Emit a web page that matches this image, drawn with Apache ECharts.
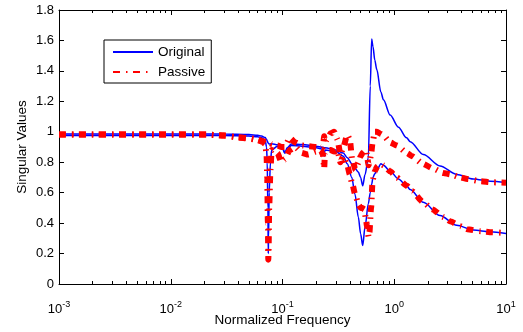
<!DOCTYPE html>
<html><head><meta charset="utf-8">
<script src="https://cdn.jsdelivr.net/npm/echarts@6/dist/echarts.min.js"></script>
<style>html,body{margin:0;padding:0;background:#fff}#c{width:523px;height:332px}</style>
</head><body><div id="c"></div>
<script>
// ---- data ----
const origFreq = [0.001, 0.01, 0.03, 0.05, 0.06, 0.065, 0.07, 0.072, 0.073, 0.074, 0.0746, 0.075, 0.076, 0.078, 0.08, 0.09, 0.1, 0.105, 0.11, 0.12, 0.15, 0.2, 0.23, 0.236, 0.24, 0.3, 0.35, 0.38, 0.417, 0.445, 0.477, 0.5, 0.522, 0.548, 0.586, 0.61, 0.628, 0.645, 0.67, 0.697, 0.76, 0.8, 0.92, 1.09, 1.29, 1.39, 1.82, 2.57, 3.62, 5.1, 7.2, 10];
const origUpper = [0.986, 0.986, 0.985, 0.982, 0.977, 0.972, 0.962, 0.95, 0.94, 0.93, 0.925, 0.922, 0.92, 0.92, 0.922, 0.915, 0.895, 0.86, 0.895, 0.92, 0.917, 0.905, 0.898, 0.895, 0.895, 0.88, 0.86, 0.83, 0.79, 0.76, 0.735, 0.7, 0.645, 0.72, 0.83, 1.3, 1.61, 1.56, 1.47, 1.41, 1.26, 1.21, 1.11, 1.03, 0.96, 0.935, 0.85, 0.775, 0.72, 0.69, 0.675, 0.667];
const origLower = [0.976, 0.976, 0.975, 0.972, 0.967, 0.96, 0.945, 0.9, 0.8, 0.5, 0.2, 0.3, 0.6, 0.8, 0.88, 0.905, 0.89, 0.86, 0.885, 0.91, 0.905, 0.895, 0.885, 0.84, 0.88, 0.87, 0.84, 0.79, 0.70, 0.59, 0.44, 0.33, 0.253, 0.376, 0.527, 0.6, 0.656, 0.7, 0.725, 0.745, 0.79, 0.78, 0.74, 0.69, 0.645, 0.62, 0.537, 0.45, 0.386, 0.354, 0.343, 0.332];

const passFreq = [0.001, 0.01, 0.021, 0.03, 0.04, 0.05, 0.06, 0.066, 0.07, 0.072, 0.073, 0.074, 0.0746, 0.075, 0.076, 0.078, 0.08, 0.09, 0.098, 0.105, 0.116, 0.13, 0.15, 0.17, 0.2, 0.22, 0.23, 0.236, 0.24, 0.25, 0.27, 0.29, 0.31, 0.33, 0.35, 0.38, 0.4, 0.42, 0.45, 0.48, 0.5, 0.52, 0.54, 0.56, 0.57, 0.59, 0.6, 0.62, 0.64, 0.67, 0.7, 0.76, 0.8, 0.92, 1.05, 1.3, 1.44, 1.8, 2.2, 2.75, 3.2, 3.9, 4.5, 5.9, 7.5, 10];
const passUpper = [0.982, 0.982, 0.982, 0.975, 0.965, 0.958, 0.95, 0.94, 0.935, 0.93, 0.93, 0.93, 0.93, 0.93, 0.93, 0.925, 0.92, 0.91, 0.9, 0.9, 0.96, 0.93, 0.91, 0.905, 0.9, 0.89, 0.9, 0.97, 0.93, 0.95, 0.99, 1.0, 0.95, 0.85, 0.9, 0.98, 0.95, 0.82, 0.75, 0.8, 0.84, 0.86, 0.87, 0.88, 0.84, 0.78, 0.8, 0.85, 0.93, 1.0, 1.0, 0.985, 0.975, 0.93, 0.91, 0.86, 0.84, 0.79, 0.76, 0.73, 0.72, 0.70, 0.69, 0.675, 0.668, 0.665];
const passLower = [0.982, 0.982, 0.982, 0.975, 0.963, 0.955, 0.945, 0.935, 0.92, 0.85, 0.7, 0.4, 0.16, 0.2, 0.5, 0.75, 0.88, 0.86, 0.80, 0.82, 0.88, 0.9, 0.86, 0.85, 0.87, 0.88, 0.85, 0.76, 0.86, 0.88, 0.88, 0.87, 0.88, 0.8, 0.84, 0.78, 0.72, 0.66, 0.58, 0.52, 0.5, 0.5, 0.49, 0.42, 0.38, 0.31, 0.34, 0.5, 0.68, 0.74, 0.77, 0.79, 0.78, 0.74, 0.70, 0.645, 0.61, 0.54, 0.49, 0.44, 0.41, 0.38, 0.36, 0.347, 0.34, 0.335];

const xMin = 0.001, xMax = 10;
const yMin = 0, yMax = 1.8, yStep = 0.2;
const xTitle = 'Normalized Frequency';
const yTitle = 'Singular Values';
const legendNames = ['Original', 'Passive'];

// minor tick positions for the log axis (2..9 x each decade)
const xMinor = [];
for (let d = xMin; d < xMax; d *= 10) {
  for (let k = 2; k <= 9; k++) xMinor.push(+(k * d).toPrecision(6));
}

const FONT = '"Liberation Sans", Arial, Helvetica, sans-serif';
const black = '#000';
const redDash = [7, 6, 1.5, 5.5];

function logAxis(pos, opts) {
  return Object.assign({
    type: 'log', logBase: 10, min: xMin, max: xMax, position: pos, gridIndex: 0,
    axisLine: { show: true, onZero: false, lineStyle: { color: black, width: 1 } },
    axisTick: { show: true, inside: true, length: 5, lineStyle: { color: black, width: 1 } },
    minorTick: { show: false },
    axisLabel: { show: false },
    splitLine: { show: false }
  }, opts);
}

const chart = echarts.init(document.getElementById('c'), null, { renderer: 'canvas' });
chart.setOption({
  animation: false,
  backgroundColor: '#fff',
  grid: { left: 59, right: 17, top: 10, bottom: 44, containLabel: false },
  legend: {
    data: legendNames,
    orient: 'vertical', left: 104, top: 40,
    itemWidth: 40, itemHeight: 14, itemGap: 6,
    padding: [5, 6, 4, 8],
    borderColor: black, borderWidth: 1, backgroundColor: '#fff',
    itemStyle: { color: 'rgba(0,0,0,0)', borderWidth: 0, opacity: 0 },
    textStyle: { fontSize: 13.5, color: black, fontFamily: FONT }
  },
  xAxis: [
    logAxis('bottom', {
      axisLabel: {
        show: true, margin: 16, showMinLabel: true, showMaxLabel: true,
        formatter: function (v) {
          const e = Math.round(Math.log10(v));
          return '{b|10}{s|' + e + '}';
        },
        rich: {
          b: { fontSize: 13, color: black, fontFamily: FONT },
          s: { fontSize: 9, color: black, fontFamily: FONT, padding: [0, 0, 9, 0] }
        }
      },
      name: xTitle, nameLocation: 'middle', nameGap: 29, nameMoveOverlap: false,
      nameTextStyle: { fontSize: 13.5, color: black, fontFamily: FONT }
    }),
    logAxis('bottom', { axisLine: { show: false, onZero: false }, axisTick: { show: true, inside: true, length: 3, customValues: xMinor, lineStyle: { color: black } } }),
    logAxis('top', {}),
    logAxis('top', { axisLine: { show: false, onZero: false }, axisTick: { show: true, inside: true, length: 3, customValues: xMinor, lineStyle: { color: black } } })
  ],
  yAxis: [
    {
      type: 'value', min: yMin, max: yMax, interval: yStep, position: 'left',
      axisLine: { show: true, onZero: false, lineStyle: { color: black, width: 1 } },
      axisTick: { show: true, inside: true, length: 5, lineStyle: { color: black } },
      axisLabel: { margin: 5, fontSize: 13, color: black, fontFamily: FONT },
      splitLine: { show: false },
      name: yTitle, nameLocation: 'middle', nameGap: 30, nameRotate: 90, nameMoveOverlap: false,
      nameTextStyle: { fontSize: 13.5, color: black, fontFamily: FONT }
    },
    {
      type: 'value', min: yMin, max: yMax, interval: yStep, position: 'right',
      axisLine: { show: true, onZero: false, lineStyle: { color: black, width: 1 } },
      axisTick: { show: true, inside: true, length: 5, lineStyle: { color: black } },
      axisLabel: { show: false },
      splitLine: { show: false }
    }
  ],
  series: [
    {
      type: 'line', name: 'Original', xAxisIndex: 0, yAxisIndex: 0,
      data: origFreq.map((f, i) => [f, origUpper[i]]),
      symbol: 'none', smooth: 0.3, smoothMonotone: 'x',
      lineStyle: { color: '#0000ff', width: 1.5 }, itemStyle: { color: '#0000ff' }, z: 2
    },
    {
      type: 'line', name: 'Original', xAxisIndex: 0, yAxisIndex: 0,
      data: origFreq.map((f, i) => [f, origLower[i]]),
      symbol: 'none', smooth: 0.3, smoothMonotone: 'x',
      lineStyle: { color: '#0000ff', width: 1.5 }, itemStyle: { color: '#0000ff' }, z: 2
    },
    {
      type: 'line', name: 'Passive', xAxisIndex: 0, yAxisIndex: 0,
      data: passFreq.map((f, i) => [f, passUpper[i]]),
      symbol: 'none', smooth: 0.2, smoothMonotone: 'x',
      lineStyle: { color: '#ff0000', width: 6, type: redDash }, itemStyle: { color: '#ff0000' }, z: 3
    },
    {
      type: 'line', name: 'Passive', xAxisIndex: 0, yAxisIndex: 0,
      data: passFreq.map((f, i) => [f, passLower[i]]),
      symbol: 'none', smooth: 0.2, smoothMonotone: 'x',
      lineStyle: { color: '#ff0000', width: 6, type: redDash }, itemStyle: { color: '#ff0000' }, z: 3
    }
  ]
});
</script></body></html>
